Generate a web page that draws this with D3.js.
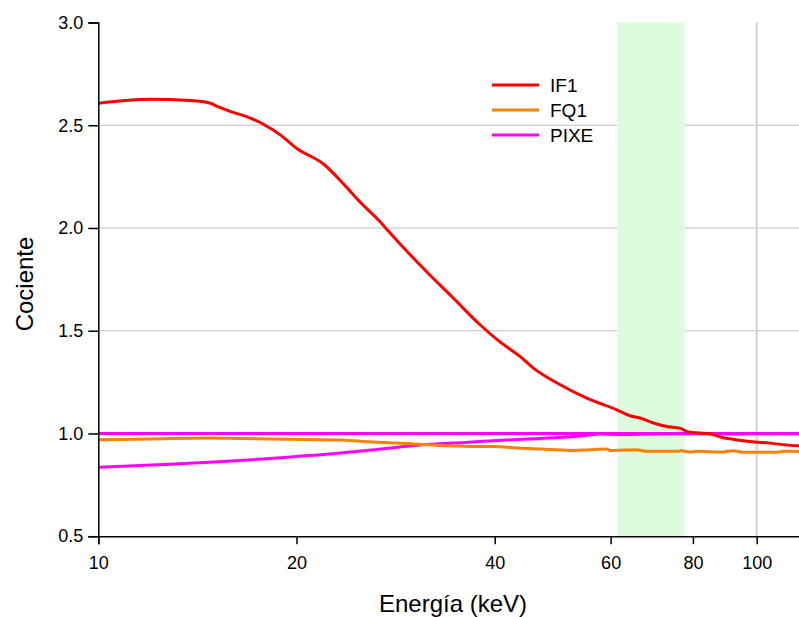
<!DOCTYPE html>
<html>
<head>
<meta charset="utf-8">
<script src="https://cdn.jsdelivr.net/npm/d3@7"></script>
<style>
  html, body { margin: 0; padding: 0; background: #fff; }
  svg { display: block; font-family: "Liberation Sans", Arial, sans-serif; }
</style>
</head>
<body>
<svg id="chart" width="799" height="617"></svg>
<script>
// Energy (keV) and ratio readings for each series
const if1Energy = [10, 12, 13.8, 14.8, 15.1, 15.9, 16.8, 17.9, 18.9, 20, 22, 23.8, 25, 26.8, 27.4, 31.5, 34.6, 38, 40.7, 43.7, 45.8, 50.3, 55.2, 61.3, 64.2, 66.5, 69.7, 73, 76.5, 78.3, 81, 84.9, 88.9, 92, 97.7, 104.8, 112.4, 120];
const if1Values = [2.607, 2.626, 2.62, 2.607, 2.594, 2.566, 2.542, 2.501, 2.453, 2.388, 2.31, 2.20, 2.125, 2.03, 1.995, 1.788, 1.659, 1.529, 1.447, 1.375, 1.318, 1.237, 1.172, 1.115, 1.086, 1.075, 1.051, 1.034, 1.026, 1.010, 1.003, 0.999, 0.979, 0.972, 0.961, 0.953, 0.942, 0.938];

const fq1Energy = [10, 12, 14.8, 16.5, 19.5, 23.3, 25.2, 28.4, 33.1, 37.3, 39.8, 43.3, 47.3, 49.7, 52.1, 55.9, 59.1, 60.1, 65.6, 68.1, 76, 76.6, 78.9, 81.3, 88.9, 91.9, 95.3, 107.3, 109.6, 120];
const fq1Values = [0.969, 0.973, 0.978, 0.975, 0.972, 0.968, 0.961, 0.953, 0.942, 0.937, 0.937, 0.929, 0.924, 0.921, 0.917, 0.921, 0.924, 0.917, 0.921, 0.913, 0.913, 0.917, 0.910, 0.913, 0.910, 0.916, 0.908, 0.908, 0.913, 0.912];

const pixeEnergy = [10, 120];
const pixeValues = [1.0, 1.0];

const pixeBEnergy = [10, 12.3, 15.5, 18, 20, 22.5, 26, 31.9, 36, 40.4, 45, 50.9, 54.5, 57.8, 62, 70, 80, 90, 100, 120];
const pixeBValues = [0.835, 0.848, 0.864, 0.877, 0.888, 0.900, 0.920, 0.947, 0.956, 0.966, 0.973, 0.981, 0.989, 0.997, 0.995, 0.997, 0.998, 0.997, 0.998, 0.998];

const xTicks = [10, 20, 40, 60, 80, 100];
const xTickLabels = ["10", "20", "40", "60", "80", "100"];
const yTicks = [0.5, 1.0, 1.5, 2.0, 2.5, 3.0];
const bandRange = [61.4, 77.8];

const legendNames = ["IF1", "FQ1", "PIXE"];
const legendColors = ["#ff0000", "#ff8000", "#ff00ff"];

const FONT = "Liberation Sans, Arial, sans-serif";
const svg = d3.select("#chart");

const x = d3.scaleLog().domain([10, 120]).range([98.3, 98.3 + 658.4 * Math.log10(12)]);
const y = d3.scaleLinear().domain([0.5, 3.0]).range([536.2, 22.5]);

// horizontal gridlines
svg.append("g")
  .selectAll("line")
  .data(yTicks.filter(d => d > 0.5 && d < 3.0))
  .join("line")
  .attr("x1", x(10)).attr("x2", 799)
  .attr("y1", d => y(d)).attr("y2", d => y(d))
  .attr("stroke", "#c0c0c0").attr("stroke-width", 1);

// vertical gridline at 100 keV
svg.append("line")
  .attr("x1", x(100)).attr("x2", x(100))
  .attr("y1", y(3.0)).attr("y2", y(0.5))
  .attr("stroke", "#d4d4d4").attr("stroke-width", 2);

// highlighted energy band
svg.append("rect")
  .attr("x", x(bandRange[0]))
  .attr("y", y(3.0))
  .attr("width", x(bandRange[1]) - x(bandRange[0]))
  .attr("height", y(0.5) - y(3.0))
  .attr("fill", "#ddfbdd");

// series lines
const line = d3.line().x(d => x(d[0])).y(d => y(d[1])).curve(d3.curveMonotoneX);
const series = [
  { e: pixeBEnergy, v: pixeBValues, c: legendColors[2] },
  { e: fq1Energy, v: fq1Values, c: legendColors[1] },
  { e: pixeEnergy, v: pixeValues, c: legendColors[2] },
  { e: if1Energy, v: if1Values, c: legendColors[0] }
];
svg.append("g")
  .selectAll("path")
  .data(series)
  .join("path")
  .attr("d", s => line(d3.zip(s.e, s.v)))
  .attr("fill", "none")
  .attr("stroke", s => s.c)
  .attr("stroke-width", 3)
  .attr("stroke-linejoin", "round");

// axes
const yAxis = d3.axisLeft(y).tickValues(yTicks).tickFormat(d3.format(".1f")).tickSize(10).tickPadding(5);
const gy = svg.append("g").attr("transform", `translate(${x(10)},0)`).call(yAxis)
  .attr("font-family", FONT).attr("font-size", 18);
gy.select(".domain").attr("stroke", "#000").attr("stroke-width", 1.5);
gy.selectAll(".tick line").attr("stroke", "#000").attr("stroke-width", 1.5);
gy.selectAll("text").attr("fill", "#000");

const xAxis = d3.axisBottom(x).tickValues(xTicks).tickFormat((d, i) => xTickLabels[i]).tickSize(8).tickPadding(12);
const gx = svg.append("g").attr("transform", `translate(0,${y(0.5)})`).call(xAxis)
  .attr("font-family", FONT).attr("font-size", 18);
gx.select(".domain").attr("stroke", "#000").attr("stroke-width", 1.5);
gx.selectAll(".tick line").attr("stroke", "#000").attr("stroke-width", 1.5);
gx.selectAll("text").attr("fill", "#000");

// axis titles
svg.append("text")
  .attr("transform", "translate(33,284) rotate(-90)")
  .attr("text-anchor", "middle")
  .attr("font-size", 24)
  .text("Cociente");

svg.append("text")
  .attr("x", 453).attr("y", 612)
  .attr("text-anchor", "middle")
  .attr("font-size", 24)
  .text("Energía (keV)");

// legend
const lg = svg.append("g").selectAll("g")
  .data(legendNames)
  .join("g")
  .attr("transform", (d, i) => `translate(492,${85 + i * 25})`);
lg.append("line")
  .attr("x1", 0).attr("x2", 47)
  .attr("stroke", (d, i) => legendColors[i])
  .attr("stroke-width", 3);
lg.append("text")
  .attr("x", 58).attr("y", 0)
  .attr("dy", "0.36em")
  .attr("font-size", 19)
  .text(d => d);
</script>
</body>
</html>
